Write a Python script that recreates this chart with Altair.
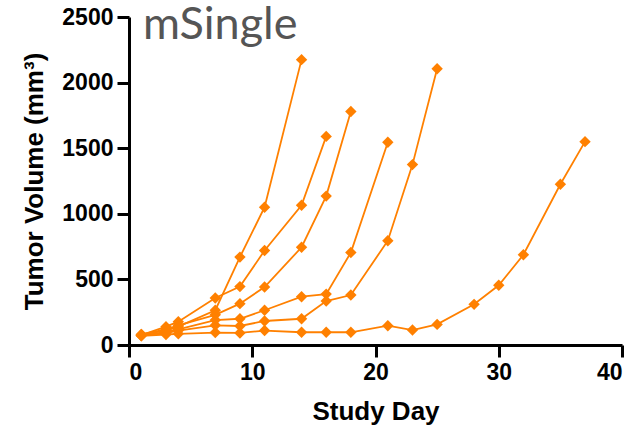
import altair as alt
import pandas as pd

# Six individual tumor growth curves (day, volume mm^3)
days_a = [1, 3, 4, 7, 9, 11, 14]
vol_a = [80, 110, 140, 265, 670, 1050, 2175]

days_b = [1, 3, 4, 7, 9, 11, 14, 16]
vol_b = [75, 140, 178, 358, 445, 720, 1065, 1590]

days_c = [1, 3, 4, 7, 9, 11, 14, 16, 18]
vol_c = [80, 120, 150, 230, 315, 442, 745, 1135, 1780]

days_d = [1, 3, 4, 7, 9, 11, 14, 16, 18, 21]
vol_d = [70, 100, 120, 190, 200, 265, 368, 388, 705, 1545]

days_e = [1, 3, 4, 7, 9, 11, 14, 16, 18, 21, 23, 25]
vol_e = [75, 90, 110, 150, 145, 183, 200, 335, 381, 795, 1375, 2105]

days_f = [1, 3, 4, 7, 9, 11, 14, 16, 18, 21, 23, 25, 28, 30, 32, 35, 37]
vol_f = [70, 80, 85, 95, 92, 110, 97, 97, 97, 147, 114, 157, 310, 455, 688, 1225, 1550]

x_ticks = [0, 10, 20, 30, 40]
y_ticks = [0, 500, 1000, 1500, 2000, 2500]

rows = []
for name, ds, vs in [("A", days_a, vol_a), ("B", days_b, vol_b), ("C", days_c, vol_c),
                     ("D", days_d, vol_d), ("E", days_e, vol_e), ("F", days_f, vol_f)]:
    for d, v in zip(ds, vs):
        rows.append({"mouse": name, "day": d, "vol": v})
df = pd.DataFrame(rows)

ORANGE = "#FF8000"

lines = alt.Chart(df).mark_line(
    color=ORANGE, strokeWidth=1.8,
    point=alt.OverlayMarkDef(shape="diamond", size=130, filled=True, color=ORANGE, opacity=1),
).encode(
    x=alt.X("day:Q", scale=alt.Scale(domain=[0, 40], nice=False),
            axis=alt.Axis(values=x_ticks, format="d", title="Study Day", titlePadding=14)),
    y=alt.Y("vol:Q", scale=alt.Scale(domain=[0, 2500], nice=False),
            axis=alt.Axis(values=y_ticks, format="d", title="Tumor Volume (mm³)", titlePadding=14)),
    detail="mouse:N",
    order="day:Q",
)

label = alt.Chart(pd.DataFrame({"t": ["mSingle"]})).mark_text(
    font="Lato", fontSize=45, color="#555555", align="left", baseline="alphabetic"
).encode(x=alt.value(14), y=alt.value(22), text="t:N")

chart = alt.layer(lines, label).properties(
    width=493, height=328,
    autosize=alt.AutoSizeParams(type="none"),
    padding={"left": 129, "top": 17, "right": 16, "bottom": 88},
).configure_view(stroke=None).configure_axis(
    grid=False,
    domainColor="black", domainWidth=3,
    tickColor="black", tickWidth=3, tickSize=12,
    labelFont="Liberation Sans", labelFontWeight="bold", labelFontSize=23,
    labelColor="black", labelPadding=4,
    titleFont="Liberation Sans", titleFontWeight="bold", titleFontSize=26,
    titleColor="black",
)

chart.save("out.html", embed_options={"renderer": "svg", "actions": False})
